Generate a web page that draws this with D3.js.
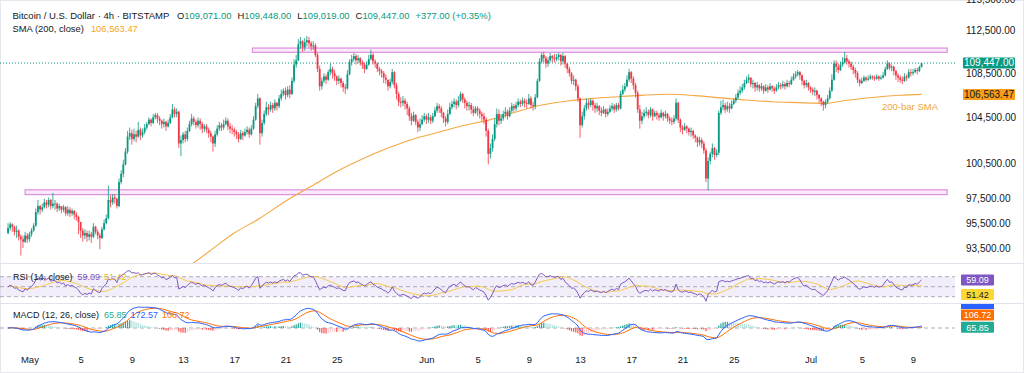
<!DOCTYPE html>
<html>
<head>
<meta charset="utf-8">
<script src="https://cdn.jsdelivr.net/npm/d3@7"></script>
<style>
  html, body { margin: 0; padding: 0; background: #fff; }
  svg { display: block; font-family: "Liberation Sans", Arial, sans-serif; }
</style>
</head>
<body>
<script>
// BTC/USD 4h candles (Bitstamp), prices in thousands of USD
// first bar opens 2025-04-29 08:00 UTC, one bar every 4 hours
const firstBar = "2025-04-29T08:00:00Z";
const firstOpen = 94.7;

const closes = [
  95.1, 95.4, 95.2, 94.8,                          // Apr 29
  94.9, 94.4, 94.2, 94.0, 94.5, 94.2,              // Apr 30
  94.6, 94.9, 95.3, 96.4, 96.9, 96.6,              // May 1
  96.8, 97.2, 97.0, 97.4, 96.9, 97.1,
  97.1, 96.7, 96.9, 96.6, 96.8, 96.3,
  96.6, 96.3, 96.5, 96.2, 96.0, 95.6,
  94.9, 94.5, 94.7, 94.4, 94.6, 94.4,              // May 5
  95.2, 94.8, 94.5, 94.3, 95.0, 95.5,
  95.9, 97.4, 97.2, 97.6, 97.5, 96.9,
  98.9, 99.6, 100.4, 101.5, 102.8, 103.1,
  102.6, 103.0, 102.8, 103.4, 102.9, 103.2,        // May 9
  103.6, 103.9, 104.3, 104.0, 104.5, 104.7,
  104.4, 104.2, 103.9, 104.1, 103.7, 104.0,
  104.5, 105.2, 104.8, 105.0, 102.2, 102.5,
  103.0, 102.6, 103.3, 103.9, 104.4, 104.1,        // May 13
  103.8, 104.2, 103.9, 103.5, 103.7, 103.4,
  103.1, 102.8, 102.2, 103.0, 103.5, 103.8,
  103.6, 103.9, 104.2, 103.7, 103.5, 103.4,
  103.2, 103.0, 102.6, 103.1, 102.9, 103.2,        // May 17
  103.4, 103.0, 103.5, 104.3, 105.5, 106.2,
  103.1, 104.0, 104.8, 105.4, 105.2, 105.6,
  105.3, 105.8, 105.5, 106.2, 106.6, 106.9,
  106.5, 107.0, 106.6, 107.8, 109.3, 109.7,        // May 21
  111.2, 111.5, 110.9, 111.4, 111.6, 111.3,
  111.0, 111.1, 110.2, 108.9, 107.3, 107.8,
  108.2, 107.9, 108.6, 108.9, 108.5, 108.2,
  107.8, 108.0, 107.6, 107.2, 107.1, 108.4,        // May 25
  109.5, 109.8, 110.1, 109.7, 109.9, 109.5,
  109.3, 108.9, 109.3, 109.8, 110.2, 109.6,
  109.4, 108.9, 108.7, 108.5, 108.1, 107.9,
  107.3, 107.7, 108.6, 107.4, 106.6, 105.9,        // May 29
  105.8, 106.0, 105.7, 105.3, 104.6, 104.2,
  104.7, 104.1, 103.6, 103.9, 104.3, 104.6,
  104.3, 104.5, 104.2, 104.6, 105.1, 105.5,        // Jun 1
  105.3, 104.9, 104.4, 104.1, 104.8, 105.4,
  105.7, 105.9, 105.6, 106.0, 106.6, 106.1,
  105.8, 105.5, 105.6, 105.2, 104.9, 105.3,
  105.1, 104.8, 104.6, 104.3, 103.3, 101.3,        // Jun 5
  101.8, 102.6, 103.9, 104.8, 104.2, 104.4,
  104.8, 105.0, 104.6, 105.1, 105.5, 105.3,
  105.6, 105.9, 105.7, 106.0, 105.8, 105.7,
  106.2, 105.6, 105.5, 106.3, 107.8, 109.6,        // Jun 9
  110.2, 109.9, 109.4, 109.7, 110.1, 109.9,
  109.8, 110.0, 110.2, 109.6, 110.1, 109.4,
  108.9, 108.5, 107.8, 107.9, 107.3, 106.2,
  103.8, 104.6, 105.3, 105.8, 105.6, 106.0,        // Jun 13
  105.6, 105.3, 105.5, 105.1, 104.9, 105.2,
  104.8, 105.0, 105.3, 105.5, 105.2, 105.6,
  105.3, 106.6, 107.0, 107.3, 107.9, 108.6,
  108.0, 107.4, 106.7, 105.2, 104.2, 104.6,        // Jun 17
  104.9, 105.0, 104.7, 105.2, 104.6, 104.9,
  104.7, 104.5, 104.9, 104.6, 104.8, 104.4,
  104.2, 104.1, 104.4, 105.8, 104.3, 103.6,
  103.4, 103.7, 103.5, 103.2, 103.3, 102.9,        // Jun 21
  102.7, 102.3, 102.5, 102.2, 101.6, 99.2,
  100.7, 101.3, 101.8, 101.2, 101.4, 104.9,
  105.4, 105.6, 105.2, 105.5, 105.3, 105.7,
  106.0, 106.3, 106.7, 106.9, 107.2, 107.6,        // Jun 25
  107.9, 108.1, 107.5, 107.6, 107.2, 107.4,
  107.1, 107.3, 106.9, 107.2, 107.0, 107.3,
  107.1, 106.9, 107.2, 107.4, 107.3, 107.5,
  107.3, 107.6, 107.5, 107.9, 108.2, 108.4,        // Jun 29
  108.6, 108.3, 107.8, 107.4, 107.6, 107.2,
  107.0, 106.8, 106.9, 106.5, 106.2, 105.9,        // Jul 1
  105.6, 105.9, 106.2, 106.9, 107.9, 109.4,
  109.1, 108.8, 109.3, 109.5, 109.9, 109.6,
  109.4, 109.1, 108.8, 108.5, 107.9, 107.6,
  107.8, 108.1, 107.9, 108.0, 108.2, 108.1,        // Jul 5
  108.0, 108.2, 108.0, 108.1, 108.3, 108.9,
  109.4, 109.0, 109.1, 108.7, 108.3, 108.1,
  107.9, 107.8, 108.2, 108.1, 108.6, 108.5,
  108.6, 108.8, 108.7, 109.071, 109.447            // Jul 9
];

const highs = [
  95.5, 95.6, 95.5, 95.3,
  95.3, 95.0, 94.6, 94.5, 94.8, 94.7,
  94.8, 95.1, 95.5, 96.7, 97.4, 97.0,
  97.1, 97.5, 97.4, 97.6, 97.5, 98.0,
  97.4, 97.2, 97.1, 96.9, 97.0, 96.9,
  96.9, 96.8, 96.7, 96.6, 96.4, 96.1,
  95.6, 95.1, 95.0, 94.9, 94.9, 94.8,
  95.5, 95.3, 95.0, 94.7, 95.2, 95.8,
  96.2, 98.6, 97.8, 97.9, 97.9, 97.6,
  99.2, 99.9, 100.8, 101.8, 103.3, 103.6,
  103.4, 103.5, 103.3, 104.1, 103.6, 103.5,
  103.9, 104.1, 104.5, 104.4, 104.8, 104.9,
  104.9, 104.6, 104.3, 104.4, 104.2, 104.3,
  104.8, 105.7, 105.4, 105.3, 105.1, 102.9,
  103.2, 103.3, 103.6, 104.2, 104.8, 104.6,
  104.3, 104.5, 104.4, 104.1, 103.9, 103.9,
  103.6, 103.3, 102.9, 103.3, 103.8, 104.1,
  104.0, 104.3, 104.5, 104.4, 104.0, 103.8,
  103.6, 103.4, 103.2, 103.4, 103.3, 103.5,
  103.7, 103.6, 103.8, 104.6, 105.8, 106.6,
  106.3, 104.3, 105.1, 105.9, 105.7, 105.9,
  105.8, 106.1, 105.9, 106.5, 107.0, 107.1,
  107.2, 107.3, 107.4, 108.1, 109.8, 110.2,
  111.7, 111.9, 111.6, 111.8, 112.0, 111.9,
  111.5, 111.5, 111.3, 110.4, 109.2, 108.1,
  108.5, 108.4, 108.8, 109.4, 109.1, 108.8,
  108.3, 108.3, 108.1, 107.8, 107.5, 108.8,
  109.8, 110.2, 110.4, 110.3, 110.2, 110.0,
  109.7, 109.5, 109.6, 110.2, 110.7, 110.4,
  109.8, 109.5, 109.1, 108.9, 108.7, 108.4,
  107.9, 108.0, 108.9, 108.7, 107.6, 106.8,
  106.3, 106.4, 106.2, 105.9, 105.5, 104.9,
  105.0, 104.8, 104.3, 104.4, 104.7, 104.9,
  104.8, 104.9, 104.7, 104.9, 105.4, 105.8,
  105.7, 105.5, 105.0, 104.6, 105.2, 105.8,
  106.0, 106.2, 106.1, 106.4, 106.8, 106.7,
  106.3, 106.0, 105.9, 105.8, 105.5, 105.5,
  105.5, 105.3, 105.0, 104.9, 104.5, 103.5,
  102.2, 103.0, 104.4, 105.3, 105.2, 104.8,
  105.1, 105.4, 105.2, 105.4, 105.8, 105.7,
  105.9, 106.2, 106.1, 106.3, 106.2, 106.1,
  106.6, 106.4, 105.9, 106.6, 108.0, 109.9,
  110.4, 110.5, 110.1, 110.0, 110.4, 110.2,
  110.3, 110.3, 110.4, 110.3, 110.4, 110.2,
  109.4, 109.1, 108.6, 108.3, 108.0, 107.5,
  106.3, 105.0, 105.6, 106.2, 106.1, 106.2,
  106.1, 105.8, 105.8, 105.6, 105.4, 105.5,
  105.3, 105.3, 105.6, 105.8, 105.7, 105.8,
  105.8, 106.9, 107.4, 107.6, 108.3, 108.9,
  108.7, 108.2, 107.6, 106.9, 105.6, 105.0,
  105.2, 105.4, 105.2, 105.4, 105.3, 105.1,
  105.1, 104.9, 105.2, 105.0, 105.1, 104.9,
  104.6, 104.5, 104.7, 106.2, 105.9, 104.4,
  103.8, 104.0, 103.8, 103.6, 103.6, 103.4,
  103.0, 102.8, 102.8, 102.7, 102.4, 101.8,
  101.0, 101.5, 102.2, 101.9, 101.7, 105.1,
  106.0, 106.1, 105.8, 105.9, 105.8, 106.0,
  106.2, 106.6, 107.0, 107.3, 107.5, 107.9,
  108.2, 108.4, 108.1, 107.9, 107.7, 107.7,
  107.5, 107.6, 107.4, 107.5, 107.4, 107.6,
  107.4, 107.3, 107.5, 107.7, 107.6, 107.8,
  107.7, 107.9, 107.8, 108.2, 108.5, 108.7,
  108.8, 108.7, 108.4, 107.9, 107.9, 107.7,
  107.3, 107.2, 107.2, 107.0, 106.6, 106.3,
  106.0, 106.1, 106.5, 107.2, 108.4, 109.7,
  109.7, 109.4, 109.6, 110.0, 110.5, 110.2,
  109.8, 109.6, 109.3, 109.0, 108.7, 108.0,
  108.1, 108.3, 108.2, 108.3, 108.4, 108.3,
  108.3, 108.4, 108.3, 108.3, 108.6, 109.1,
  109.7, 109.5, 109.3, 109.2, 108.8, 108.5,
  108.3, 108.2, 108.5, 108.4, 108.9, 108.9,
  108.9, 109.0, 109.0, 109.2, 109.448
];

const lows = [
  94.6, 94.9, 94.8, 94.5,
  94.3, 94.1, 92.9, 93.5, 93.9, 93.9,
  94.0, 94.4, 94.8, 95.2, 96.2, 96.2,
  96.4, 96.7, 96.7, 96.8, 96.6, 96.7,
  96.6, 96.4, 96.5, 96.3, 96.4, 96.1,
  96.1, 96.0, 96.1, 95.8, 95.7, 94.6,
  94.3, 94.0, 94.2, 94.0, 94.1, 93.9,
  94.3, 94.6, 94.2, 93.4, 94.2, 94.9,
  95.4, 95.8, 96.8, 97.0, 97.1, 96.7,
  96.8, 98.7, 99.3, 100.3, 101.3, 102.5,
  102.1, 102.4, 102.3, 102.7, 102.5, 102.7,
  103.0, 103.4, 103.8, 103.7, 103.9, 104.3,
  104.0, 103.8, 103.5, 103.6, 103.3, 103.6,
  103.9, 104.4, 104.5, 104.5, 101.8, 101.1,
  102.2, 102.3, 102.4, 103.2, 103.7, 103.8,
  103.5, 103.6, 103.4, 103.1, 103.2, 103.1,
  102.7, 102.3, 101.5, 101.9, 102.8, 103.3,
  103.3, 103.4, 103.8, 103.4, 103.1, 103.0,
  102.8, 102.6, 102.3, 102.5, 102.5, 102.8,
  103.0, 102.7, 102.9, 103.4, 104.2, 105.3,
  102.1, 102.8, 103.8, 104.6, 104.7, 105.0,
  104.9, 105.1, 105.1, 105.3, 106.0, 106.4,
  106.1, 106.3, 106.2, 106.5, 107.6, 109.0,
  109.6, 110.8, 110.5, 110.6, 111.0, 110.9,
  110.6, 110.7, 110.0, 108.6, 106.9, 107.0,
  107.6, 107.5, 107.8, 108.3, 108.0, 107.8,
  107.4, 107.5, 107.2, 106.8, 106.6, 107.0,
  108.3, 109.2, 109.6, 109.3, 109.4, 109.2,
  108.9, 108.5, 108.8, 109.2, 109.7, 109.3,
  109.0, 108.6, 108.3, 108.1, 107.6, 107.5,
  106.9, 107.1, 107.5, 107.1, 106.1, 105.5,
  105.4, 105.5, 105.2, 104.7, 104.2, 103.8,
  104.1, 103.8, 103.2, 103.3, 103.8, 104.1,
  103.9, 104.0, 103.9, 104.0, 104.5, 104.9,
  104.9, 104.5, 104.0, 103.7, 103.9, 104.7,
  105.2, 105.4, 105.2, 105.4, 105.9, 105.8,
  105.3, 105.1, 105.1, 104.8, 104.6, 104.8,
  104.6, 104.4, 104.2, 103.9, 102.8, 100.4,
  100.9, 101.5, 102.4, 103.6, 103.8, 103.9,
  104.2, 104.5, 104.3, 104.5, 104.9, 105.0,
  105.1, 105.4, 105.4, 105.5, 105.4, 105.3,
  105.6, 105.3, 105.1, 105.2, 106.2, 107.7,
  109.4, 109.5, 109.0, 109.1, 109.5, 109.5,
  109.5, 109.6, 109.7, 109.2, 109.3, 109.0,
  108.5, 108.2, 107.5, 107.4, 106.9, 105.9,
  102.7, 103.6, 104.3, 105.1, 105.2, 105.4,
  105.1, 104.9, 105.0, 104.7, 104.6, 104.8,
  104.5, 104.6, 104.9, 105.1, 104.9, 105.0,
  105.1, 105.2, 106.5, 106.8, 107.2, 107.7,
  107.6, 107.0, 106.3, 104.9, 103.5, 103.9,
  104.4, 104.6, 104.4, 104.5, 104.2, 104.5,
  104.3, 104.2, 104.4, 104.2, 104.4, 104.1,
  103.9, 103.8, 103.9, 104.2, 104.0, 103.2,
  103.0, 103.3, 103.1, 102.9, 102.8, 102.6,
  102.3, 101.9, 102.0, 101.8, 101.3, 98.9,
  98.2, 100.4, 101.0, 100.8, 101.0, 101.2,
  104.7, 105.1, 104.9, 105.0, 104.9, 105.2,
  105.6, 105.8, 106.1, 106.5, 106.7, 107.0,
  107.5, 107.6, 107.2, 107.1, 106.8, 106.9,
  106.8, 106.9, 106.6, 106.8, 106.7, 106.9,
  106.8, 106.6, 106.8, 107.0, 107.0, 107.1,
  107.0, 107.2, 107.2, 107.4, 107.8, 108.0,
  108.2, 107.9, 107.4, 107.1, 107.2, 106.9,
  106.7, 106.5, 106.4, 106.1, 105.8, 105.5,
  105.1, 105.3, 105.7, 106.1, 106.8, 107.8,
  108.6, 108.5, 108.7, 109.1, 109.4, 109.3,
  109.0, 108.8, 108.4, 108.1, 107.6, 107.3,
  107.5, 107.7, 107.7, 107.8, 107.9, 107.9,
  107.8, 107.9, 107.8, 107.9, 108.0, 108.2,
  108.8, 108.8, 108.7, 108.3, 107.9, 107.7,
  107.6, 107.5, 107.7, 107.8, 108.0, 108.2,
  108.3, 108.5, 108.4, 108.6, 109.019
];

// 200-bar SMA (thousands of USD)
const smaDates = ["2025-05-13", "2025-05-15", "2025-05-17", "2025-05-19", "2025-05-21",
  "2025-05-23", "2025-05-25", "2025-05-27", "2025-05-29", "2025-05-31", "2025-06-02",
  "2025-06-04", "2025-06-06", "2025-06-08", "2025-06-10", "2025-06-12", "2025-06-14",
  "2025-06-16", "2025-06-18", "2025-06-20", "2025-06-22", "2025-06-24", "2025-06-26",
  "2025-06-28", "2025-06-30", "2025-07-02", "2025-07-04", "2025-07-06", "2025-07-08",
  "2025-07-09T16:00"];
const smaValues = [91.7, 93.2, 94.7, 95.9, 97.3, 98.54, 99.8, 100.86, 101.8, 102.6, 103.2,
  103.8, 104.3, 104.98, 105.6, 105.96, 106.2, 106.35, 106.5, 106.58, 106.45, 106.25, 106.05,
  105.9, 105.82, 105.75, 106.05, 106.3, 106.48, 106.563];

// horizontal zones drawn on the chart
const zoneStart = ["2025-05-18T10:00", "2025-04-30T16:00"];
const zoneEnd = ["2025-07-11T16:00", "2025-07-11T16:00"];
const zoneLow = [110.45, 97.85];
const zoneHigh = [110.85, 98.25];

// axis ticks
const priceTicks = [115.5, 112.5, 108.5, 104.5, 100.5, 97.5, 95.5, 93.5];
const timeTicks = ["2025-05-01", "2025-05-05", "2025-05-09", "2025-05-13", "2025-05-17",
  "2025-05-21", "2025-05-25", "2025-06-01", "2025-06-05", "2025-06-09", "2025-06-13",
  "2025-06-17", "2025-06-21", "2025-06-25", "2025-07-01", "2025-07-05", "2025-07-09"];
const timeLabels = ["May", "5", "9", "13", "17", "21", "25", "Jun", "5", "9", "13",
  "17", "21", "25", "Jul", "5", "9"];

// last values shown in legends and scale labels
const lastPrice = 109.447, lastSma = 106.56347;
const ohlcKeys = ["O", "H", "L", "C"];
const ohlcLabels = ["109,071.00", "109,448.00", "109,019.00", "109,447.00"];
const changeLabel = "+377.00 (+0.35%)";
const smaLabel = "106,563.47";
const rsiLabels = ["59.09", "51.42"];
const macdLabels = ["65.85", "172.57", "106.72"];

const W = 1024, H = 373;
const plotRight = 955;
const mainPane = [0, 263], rsiPane = [263, 303], macdPane = [303, 347];
const UP = "#089981", DOWN = "#f23645", TXT = "#131722";

const utc = s => new Date(s.length <= 10 ? s + "T00:00:00Z" : (s.endsWith("Z") ? s : s + ":00Z"));
const t0 = new Date(firstBar).getTime();
const bars = closes.map((c, i) => {
  const o = i ? closes[i - 1] : firstOpen;
  return { t: new Date(t0 + i * 4 * 3600e3), o, c,
           h: Math.max(highs[i], o, c), l: Math.min(lows[i], o, c) };
});

const svg = d3.select("body").append("svg").attr("width", W).attr("height", H);

const x = d3.scaleUtc()
  .domain([utc("2025-05-01"), utc("2025-07-09")])
  .range([29.4, 913]);
const y = d3.scaleLog().domain([115.479, 92.314]).range(mainPane);

// clip paths for panes
const defs = svg.append("defs");
[["clipMain", mainPane], ["clipRsi", rsiPane], ["clipMacd", macdPane]].forEach(([id, p]) => {
  defs.append("clipPath").attr("id", id).append("rect")
    .attr("x", 0).attr("y", p[0]).attr("width", plotRight).attr("height", p[1] - p[0]);
});

// pane separators and frame
svg.append("rect").attr("x", 0.5).attr("y", 0.5).attr("width", W - 1).attr("height", H - 1)
  .attr("fill", "none").attr("stroke", "#e6e8ee");
[rsiPane[0], macdPane[0]].forEach(v => {
  svg.append("line").attr("x1", 0).attr("x2", W).attr("y1", v + 0.5).attr("y2", v + 0.5)
    .attr("stroke", "#e0e3eb");
});

// ---------- main pane ----------
const main = svg.append("g").attr("clip-path", "url(#clipMain)");

// zones
zoneStart.forEach((s, i) => {
  main.append("rect")
    .attr("x", x(utc(s))).attr("y", y(zoneHigh[i]))
    .attr("width", x(utc(zoneEnd[i])) - x(utc(s)))
    .attr("height", y(zoneLow[i]) - y(zoneHigh[i]))
    .attr("fill", "#fbeafb").attr("stroke", "#dc8fdc").attr("stroke-width", 1.2);
});

// last price dotted line
main.append("line").attr("x1", 0).attr("x2", plotRight)
  .attr("y1", y(lastPrice)).attr("y2", y(lastPrice))
  .attr("stroke", UP).attr("stroke-dasharray", "1,2").attr("stroke-width", 1);

// SMA line
const smaData = smaDates.map((d, i) => ({ t: utc(d), v: smaValues[i] }));
main.append("path").datum(smaData)
  .attr("d", d3.line().x(d => x(d.t)).y(d => y(d.v)).curve(d3.curveMonotoneX))
  .attr("fill", "none").attr("stroke", "#f5a841").attr("stroke-width", 1.1);

// candles
const candle = main.selectAll("g.candle").data(bars).join("g").attr("class", "candle");
candle.append("line")
  .attr("x1", d => x(d.t)).attr("x2", d => x(d.t))
  .attr("y1", d => y(d.h)).attr("y2", d => y(d.l))
  .attr("stroke", d => d.c >= d.o ? UP : DOWN).attr("stroke-width", 0.8);
candle.append("rect")
  .attr("x", d => x(d.t) - 0.9).attr("width", 1.8)
  .attr("y", d => y(Math.max(d.o, d.c)))
  .attr("height", d => Math.max(0.8, y(Math.min(d.o, d.c)) - y(Math.max(d.o, d.c))))
  .attr("fill", d => d.c >= d.o ? UP : DOWN);

svg.append("text").attr("x", 882).attr("y", 109.5).attr("font-size", 9.5)
  .attr("fill", "#f0a53a").text("200-bar SMA");

// price axis
const fmt = d3.format(",.2f");
const yAxis = svg.append("g").attr("transform", `translate(${plotRight},0)`)
  .call(d3.axisRight(y).tickValues(priceTicks).tickSize(0).tickPadding(11)
    .tickFormat(v => fmt(v * 1000)));
yAxis.select(".domain").remove();
yAxis.selectAll("text").attr("font-size", 10).attr("fill", TXT)
  .attr("font-family", "Liberation Sans, Arial, sans-serif");

function scaleBox(yc, x0, w, bg, fg, label, fs) {
  svg.append("rect").attr("x", x0).attr("y", yc - 5.5).attr("width", w).attr("height", 11)
    .attr("rx", 1).attr("fill", bg);
  svg.append("text").attr("x", x0 + w / 2).attr("y", yc + 3.4).attr("text-anchor", "middle")
    .attr("font-size", fs || 9).attr("fill", fg).text(label);
}
scaleBox(y(lastPrice), 963, 52, UP, "#fff", fmt(lastPrice * 1000), 10);
scaleBox(y(lastSma), 963, 52, "#f89e1b", TXT, smaLabel, 10);

// ---------- RSI ----------
function rsiOf(vals, n) {
  const diffs = vals.slice(1).map((v, i) => v - vals[i]);
  let ag = d3.mean(diffs.slice(0, n), Math.abs) / 2, al = ag;
  const out = [50];
  diffs.forEach(d => {
    ag = (ag * (n - 1) + Math.max(d, 0)) / n;
    al = (al * (n - 1) + Math.max(-d, 0)) / n;
    out.push(al === 0 ? 100 : 100 - 100 / (1 + ag / al));
  });
  return out;
}
const sma = (vals, n) => vals.map((v, i) => d3.mean(vals.slice(Math.max(0, i - n + 1), i + 1)));
const rsi = rsiOf(closes, 14);
const rsiMa = sma(rsi, 14);

const yr = d3.scaleLinear().domain([30, 70]).range([296.7, 276.7]);
const rsiG = svg.append("g").attr("clip-path", "url(#clipRsi)");
rsiG.append("rect").attr("x", 0).attr("width", plotRight)
  .attr("y", yr(70)).attr("height", yr(30) - yr(70)).attr("fill", "#7e57c2").attr("opacity", 0.1);
[70, 50, 30].forEach(v => {
  rsiG.append("line").attr("x1", 0).attr("x2", plotRight).attr("y1", yr(v)).attr("y2", yr(v))
    .attr("stroke", "#9598a1").attr("stroke-dasharray", "4,3").attr("stroke-width", 0.8);
});
const lineR = d3.line().x((d, i) => x(bars[i].t)).y(d => yr(d));
rsiG.append("path").datum(rsiMa).attr("d", lineR).attr("fill", "none")
  .attr("stroke", "#f7c948").attr("stroke-width", 1);
rsiG.append("path").datum(rsi).attr("d", lineR).attr("fill", "none")
  .attr("stroke", "#7e57c2").attr("stroke-width", 1);

const rsiTxt = svg.append("text").attr("x", 13).attr("y", 279.5).attr("font-size", 9);
rsiTxt.append("tspan").attr("fill", TXT).text("RSI (14, close)");
rsiTxt.append("tspan").attr("dx", 5).attr("fill", "#7e57c2").text(rsiLabels[0]);
rsiTxt.append("tspan").attr("dx", 4).attr("fill", "#e6bb16").text(rsiLabels[1]);

scaleBox(280, 961, 33, "#7e57c2", "#fff", rsiLabels[0]);
scaleBox(294.5, 961, 33, "#fdd835", TXT, rsiLabels[1]);

// ---------- MACD ----------
function ema(vals, n) {
  const a = 2 / (n + 1);
  const out = [];
  vals.forEach((v, i) => out.push(i ? a * v + (1 - a) * out[i - 1] : v));
  return out;
}
const e12 = ema(closes, 12), e26 = ema(closes, 26);
const macd = e12.map((v, i) => v - e26[i]);
const signal = ema(macd, 9);
const hist = macd.map((v, i) => v - signal[i]);

const m = d3.max(macd.concat(signal), v => Math.abs(v));
const ym = d3.scaleLinear().domain([-m, m]).range([328 + 21, 328 - 21]);
const macdG = svg.append("g").attr("clip-path", "url(#clipMacd)");
macdG.append("line").attr("x1", 0).attr("x2", plotRight).attr("y1", ym(0)).attr("y2", ym(0))
  .attr("stroke", "#9598a1").attr("stroke-dasharray", "4,3").attr("stroke-width", 0.8);
macdG.selectAll("rect.h").data(hist).join("rect").attr("class", "h")
  .attr("x", (d, i) => x(bars[i].t) - 0.6).attr("width", 1.2)
  .attr("y", d => Math.min(ym(d), ym(0)))
  .attr("height", d => Math.abs(ym(d) - ym(0)))
  .attr("fill", (d, i) => {
    const prev = i ? hist[i - 1] : 0;
    if (d >= 0) return d >= prev ? "#26a69a" : "#b2dfdb";
    return d <= prev ? "#ff5252" : "#ffcdd2";
  });
const lineM = d3.line().x((d, i) => x(bars[i].t)).y(d => ym(d));
macdG.append("path").datum(signal).attr("d", lineM).attr("fill", "none")
  .attr("stroke", "#ff6d00").attr("stroke-width", 1);
macdG.append("path").datum(macd).attr("d", lineM).attr("fill", "none")
  .attr("stroke", "#2962ff").attr("stroke-width", 1);

const macdTxt = svg.append("text").attr("x", 13).attr("y", 318).attr("font-size", 9);
macdTxt.append("tspan").attr("fill", TXT).text("MACD (12, 26, close)");
macdTxt.append("tspan").attr("dx", 5).attr("fill", "#22ab94").text(macdLabels[0]);
macdTxt.append("tspan").attr("dx", 4).attr("fill", "#2962ff").text(macdLabels[1]);
macdTxt.append("tspan").attr("dx", 4).attr("fill", "#ff6d00").text(macdLabels[2]);

const boxClip = svg.append("g").attr("clip-path", "url(#clipMacdAxis)");
defs.append("clipPath").attr("id", "clipMacdAxis").append("rect")
  .attr("x", plotRight).attr("y", macdPane[0] + 1).attr("width", W - plotRight).attr("height", 44);
boxClip.append("rect").attr("x", 961).attr("y", 298).attr("width", 33).attr("height", 11)
  .attr("fill", "#2962ff");
scaleBox(315, 961, 33, "#ff6d00", "#fff", macdLabels[2]);
scaleBox(327.3, 961, 33, "#22ab94", "#fff", macdLabels[0]);

// ---------- time axis ----------
const xAxis = svg.append("g").attr("transform", `translate(0,${macdPane[1]})`)
  .call(d3.axisBottom(x).tickValues(timeTicks.map(utc)).tickSize(0).tickPadding(9)
    .tickFormat((d, i) => timeLabels[i]));
xAxis.select(".domain").remove();
xAxis.selectAll("text").attr("font-size", 9.5).attr("fill", TXT)
  .attr("font-family", "Liberation Sans, Arial, sans-serif");

// ---------- header ----------
// size the legend texts so they span the same widths as in the picture
function fitText(sel, width) {
  const w = sel.node().getComputedTextLength();
  const fs = +sel.attr("font-size");
  sel.attr("font-size", (fs * width / w).toFixed(2));
}
const title = svg.append("text").attr("x", 12.5).attr("y", 19).attr("font-size", 10)
  .attr("fill", TXT).text("Bitcoin / U.S. Dollar · 4h · BITSTAMP");
fitText(title, 157);

const ohlc = svg.append("text").attr("x", 177).attr("y", 19).attr("font-size", 10);
ohlcKeys.forEach((k, i) => {
  ohlc.append("tspan").attr("dx", i ? 6 : 0).attr("fill", TXT).text(k);
  ohlc.append("tspan").attr("fill", UP).text(ohlcLabels[i]);
});
ohlc.append("tspan").attr("dx", 6).attr("fill", UP).text(changeLabel);
fitText(ohlc, 290);

const h2 = svg.append("text").attr("x", 12.5).attr("y", 31.5).attr("font-size", 9.4).attr("fill", TXT);
h2.append("tspan").text("SMA (200, close)");
h2.append("tspan").attr("dx", 7).attr("fill", "#f5a623").text(smaLabel);
</script>
</body>
</html>
